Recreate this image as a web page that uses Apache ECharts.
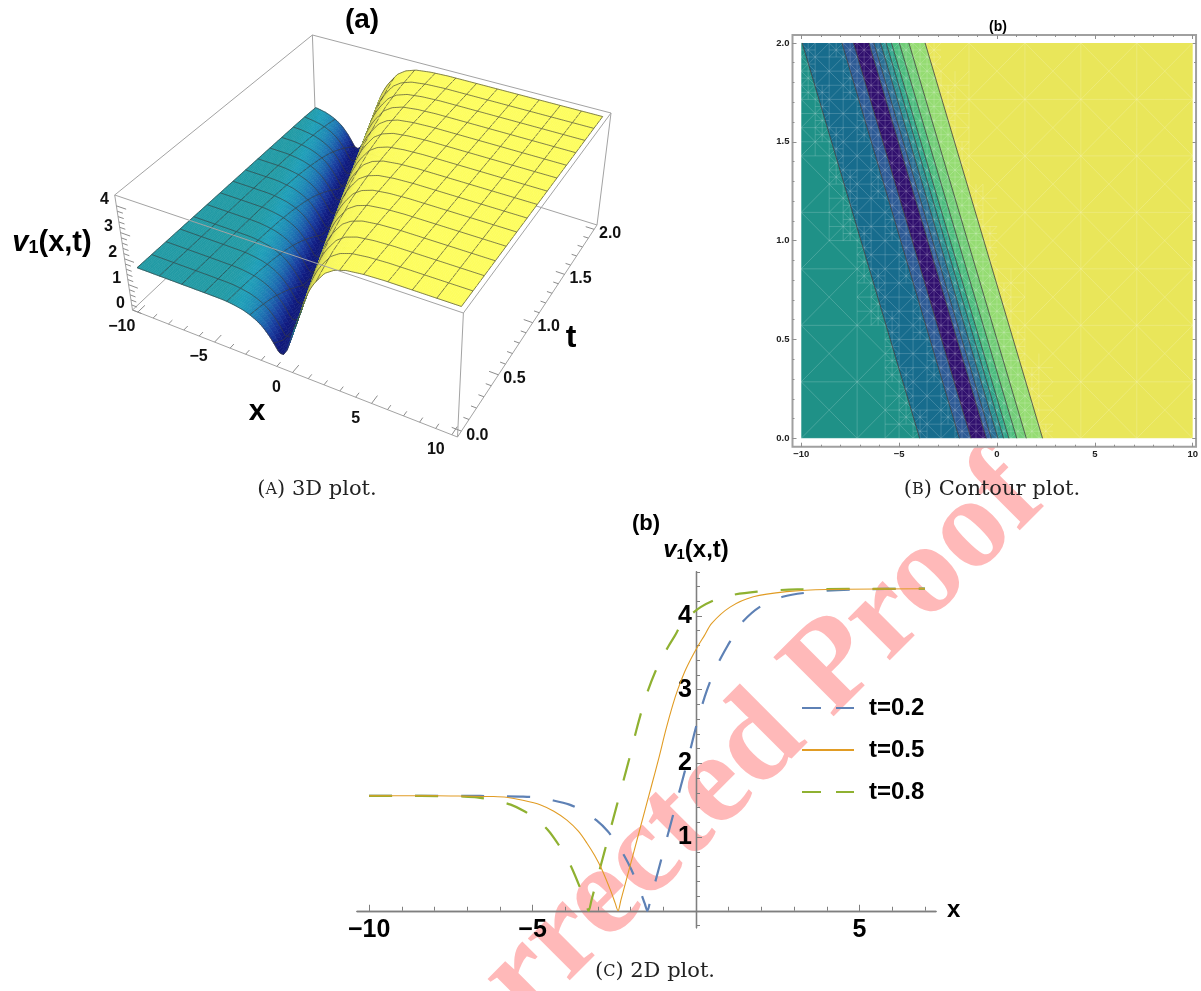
<!DOCTYPE html>
<html>
<head>
<meta charset="utf-8">
<style>html,body{margin:0;padding:0;background:#fff}#main{width:1201px;height:991px}</style>
<script src="https://cdn.jsdelivr.net/npm/echarts@6/dist/echarts.min.js"></script>
</head>
<body>
<div id="main"></div>
<script>
// panel (c): curves
var curveT02 = [[-10,1.56],[-7.1,1.56],[-6.1,1.555],[-5.3,1.55],[-4.9,1.54],[-4.4,1.5],[-3.87,1.44],[-3.45,1.35],[-3.05,1.23],[-2.7,1.08],[-2.44,0.92],[-2.2,0.75],[-1.98,0.56],[-1.7,0.26],[-1.57,0.1],[-1.485,0],[-1.4,0.14],[-1.17,0.52],[-0.81,1.12],[-0.46,1.7],[-0.25,2.05],[-0.02,2.46],[0.18,2.78],[0.34,3.0],[0.55,3.24],[0.77,3.44],[0.97,3.6],[1.15,3.73],[1.38,3.9],[1.94,4.12],[2.65,4.26],[3.67,4.33],[4.9,4.36],[7,4.37]];
var curveT05 = [[-10,1.56],[-8,1.56],[-7,1.555],[-6.2,1.55],[-5.8,1.54],[-5.3,1.5],[-4.77,1.44],[-4.35,1.35],[-3.95,1.23],[-3.6,1.08],[-3.34,0.92],[-3.1,0.75],[-2.88,0.56],[-2.6,0.26],[-2.47,0.1],[-2.385,0],[-2.3,0.14],[-2.07,0.52],[-1.71,1.12],[-1.36,1.7],[-1.15,2.05],[-0.92,2.46],[-0.72,2.78],[-0.56,3.0],[-0.35,3.24],[-0.13,3.44],[0.07,3.6],[0.25,3.73],[0.48,3.9],[1.04,4.12],[1.75,4.26],[2.77,4.33],[4,4.36],[7,4.37]];
var curveT08 = [[-10,1.56],[-8.9,1.56],[-7.9,1.555],[-7.1,1.55],[-6.7,1.54],[-6.2,1.5],[-5.67,1.44],[-5.25,1.35],[-4.85,1.23],[-4.5,1.08],[-4.24,0.92],[-4,0.75],[-3.78,0.56],[-3.5,0.26],[-3.37,0.1],[-3.285,0],[-3.2,0.14],[-2.97,0.52],[-2.61,1.12],[-2.26,1.7],[-2.05,2.05],[-1.82,2.46],[-1.62,2.78],[-1.46,3.0],[-1.25,3.24],[-1.03,3.44],[-0.83,3.6],[-0.65,3.73],[-0.42,3.9],[0.14,4.12],[0.85,4.26],[1.87,4.33],[3.1,4.36],[7,4.37]];
var xTicks2d = [-10,-5,5];
var yTicks2d = [1,2,3,4];

// panel (b): contour band edges as x at t=0 and at t=2
var edgesAtT0 = [-3.95,-1.92,-1.33,-0.54,-0.29,0.05,0.34,0.61,1.01,1.5,2.33];
var edgesAtT2 = [-9.95,-7.92,-7.33,-6.54,-6.29,-5.95,-5.66,-5.39,-4.99,-4.5,-3.67];
var bandColors = ['#1f9187','#176c8d','#2c5a95','#30106e','#33609b','#2a6f94','#2a8f90','#2fa58a','#4dbd7f','#71cd78','#95dc72','#e9e65a'];
var contourXTicks = [-10,-5,0,5,10];
var contourTTicks = [0,0.5,1,1.5,2];

// panel (a): the surface is one profile (wave coordinate s = x + 3t)
var profileS = [-20,-5,-3.8,-3.4,-2.9,-2.385,-1.965,-1.565,-1.215,-0.955,-0.715,-0.495,-0.215,0.05,0.315,0.675,1.025,1.235,1.465,1.665,1.825,2.035,2.255,2.455,2.635,2.865,3.425,4.135,5.155,6.385,20];
var profileV = [1.56,1.555,1.55,1.54,1.5,1.44,1.35,1.23,1.08,0.92,0.75,0.56,0.3,0.28,0.52,1.12,1.7,2.05,2.46,2.78,3.0,3.24,3.44,3.6,3.73,3.9,4.12,4.26,4.33,4.36,4.37];
var surfaceShift = -0.9;
var heightStops = [[0,'#0a1560'],[0.4,'#101a80'],[0.8,'#1a3fa0'],[1.2,'#1e78b4'],[1.47,'#1f9fb8'],[1.56,'#219aa3'],[2.0,'#4f7f5a'],[2.6,'#9aa850'],[3.2,'#d8d855'],[3.8,'#f6f65a'],[4.37,'#fdfd5e']];

var FONT = '"Liberation Sans", Arial, sans-serif';
var SERIF = '"Liberation Serif", serif';
var CAPTION = '"DejaVu Serif", serif';

function profileAt(s) {
  for (var i = 1; i < profileS.length; i++) {
    if (s <= profileS[i]) {
      var k = (s - profileS[i-1]) / (profileS[i] - profileS[i-1]);
      return profileV[i-1] + k * (profileV[i] - profileV[i-1]);
    }
  }
  return profileV[profileV.length-1];
}
function hexToRgb(h) {
  return [parseInt(h.substr(1,2),16), parseInt(h.substr(3,2),16), parseInt(h.substr(5,2),16)];
}
function heightColor(v) {
  for (var i = 1; i < heightStops.length; i++) {
    if (v <= heightStops[i][0]) {
      var a = heightStops[i-1], b = heightStops[i];
      var k = (v - a[0]) / (b[0] - a[0]);
      var p = hexToRgb(a[1]), q = hexToRgb(b[1]);
      return 'rgb(' + Math.round(p[0]+k*(q[0]-p[0])) + ',' + Math.round(p[1]+k*(q[1]-p[1])) + ',' + Math.round(p[2]+k*(q[2]-p[2])) + ')';
    }
  }
  return heightStops[heightStops.length-1][1];
}

// box of the 3d plot, screen corners measured on the picture
var box = {xMin:-10.35, xMax:10.35, tMin:-0.05, tMax:2.05, zMax:4.4};
var view = {
  a0:[132.5,310], b0:[457.5,437], c0:[597,225], d0:[316,137],
  a1:[114.7,195], b1:[463.4,313], c1:[611,113], d1:[312.4,35]
};
function warp(u, w) { return u * w / (1 + (w - 1) * u); }
function mix(p, q, k) { return [p[0] + k*(q[0]-p[0]), p[1] + k*(q[1]-p[1])]; }
function project(x, t, z) {
  var u = warp((x - box.xMin) / (box.xMax - box.xMin), 0.97);
  var v = warp((t - box.tMin) / (box.tMax - box.tMin), 1.17);
  var w = warp(z / box.zMax, 0.96);
  var low = mix(mix(view.a0, view.b0, u), mix(view.d0, view.c0, u), v);
  var high = mix(mix(view.a1, view.b1, u), mix(view.d1, view.c1, u), v);
  return mix(low, high, w);
}

var scene = [];
function boxLine(p, q) { scene.push({kind:'line', p:p, q:q, color:'#a3a3a3', width:1}); }
function tickLine(p, q) { scene.push({kind:'line', p:p, q:q, color:'#8c8c8c', width:1}); }
function tickLabel(text, p, dx, dy) { scene.push({kind:'text', text:text, p:p, dx:dx, dy:dy}); }

var xa = box.xMin, xb = box.xMax, ta = box.tMin, tb = box.tMax, zt = box.zMax;
// back and floor of the box
boxLine([xa,tb,zt],[xa,tb,0]); boxLine([xa,tb,zt],[xb,tb,zt]); boxLine([xa,tb,zt],[xa,ta,zt]);
boxLine([xa,tb,0],[xa,ta,0]); boxLine([xa,tb,0],[xb,tb,0]);
boxLine([xa,ta,0],[xb,ta,0]); boxLine([xb,ta,0],[xb,tb,0]);
boxLine([xa,ta,0],[xa,ta,zt]); boxLine([xb,ta,0],[xb,ta,zt]); boxLine([xb,tb,0],[xb,tb,zt]);

var i, j, q;
for (q = -10; q <= 10; q++) {
  tickLine([q,ta,0],[q,ta+(q % 5 === 0 ? 0.07 : 0.04),0]);
  if (q % 5 === 0) tickLabel(String(q).replace('-', '\u2212'), [q,ta,0], -16, 15);
}
for (q = 0; q <= 20; q++) {
  var tv = q / 10;
  tickLine([xb,tv,0],[xb-(q % 5 === 0 ? 0.6 : 0.35),tv,0]);
  if (q % 5 === 0) tickLabel(tv.toFixed(1), [xb,tv,0], 16, 4);
}
for (q = 0; q <= 20; q++) {
  var zv = q / 5;
  tickLine([xa,ta,zv],[xa+(q % 5 === 0 ? 0.6 : 0.35),ta,zv]);
  if (q % 5 === 0) tickLabel(String(zv), [xa,ta,zv], -12, -6);
}

// surface, back to front so that nearer rows hide farther ones
var rowsPerMesh = 3, meshRows = 14, colCount = 168, meshEveryX = 12;
var rowCount = rowsPerMesh * meshRows, xStep = 20 / colCount;
var meshColor = 'rgba(55,55,55,0.8)';
function height(x, t) { return profileAt(x - surfaceShift + 3 * t); }
for (i = rowCount; i > 0; i--) {
  var t1 = 2 * i / rowCount, t0 = 2 * (i - 1) / rowCount;
  for (j = 0; j < colCount; j++) {
    var x0 = -10 + j * xStep, x1 = x0 + xStep;
    var h00 = height(x0,t0), h10 = height(x1,t0), h11 = height(x1,t1), h01 = height(x0,t1);
    scene.push({kind:'quad', pts:[[x0,t0,h00],[x1,t0,h10],[x1,t1,h11],[x0,t1,h01]], color:heightColor((h00+h10+h11+h01)/4)});
  }
  // mesh lines along t
  for (j = 0; j <= colCount; j += meshEveryX) {
    var mx = -10 + j * xStep;
    scene.push({kind:'line', p:[mx,t1,height(mx,t1)], q:[mx,t0,height(mx,t0)], color:meshColor, width:0.8});
  }
  // mesh lines along x, on the back edge of this row
  if (i % rowsPerMesh === 0 || i === 1) {
    var mt = i === 1 ? t0 : t1;
    for (j = 0; j < colCount; j++) {
      var mx0 = -10 + j * xStep, mx1 = mx0 + xStep;
      scene.push({kind:'line', p:[mx0,mt,height(mx0,mt)], q:[mx1,mt,height(mx1,mt)], color:meshColor, width:0.8});
    }
  }
}
// front of the box goes over the surface
boxLine([xa,ta,zt],[xb,ta,zt]); boxLine([xb,ta,zt],[xb,tb,zt]);

function renderScene(params, api) {
  var item = scene[params.dataIndex];
  function scr(p) { var s = project(p[0],p[1],p[2]); return api.coord(s); }
  if (item.kind === 'quad') {
    return {type:'polygon', shape:{points:item.pts.map(scr)}, style:{fill:item.color, stroke:item.color, lineWidth:0.6}};
  }
  if (item.kind === 'line') {
    var a = scr(item.p), b = scr(item.q);
    return {type:'line', shape:{x1:a[0],y1:a[1],x2:b[0],y2:b[1]}, style:{stroke:item.color, lineWidth:item.width, fill:null}};
  }
  var c = scr(item.p);
  return {type:'text', style:{x:c[0]+item.dx, y:c[1]+item.dy, text:item.text, fill:'#111', font:'bold 16px ' + FONT, align:'center', verticalAlign:'middle'}};
}

// contour mesh: cells get finer where they cross the bands
var meshSegs = [];
function addCell(x, t, dx, dt, depth, ci, cj) {
  var sLow = x + 3 * t, sHigh = x + dx + 3 * (t + dt);
  var crossing = edgesAtT0.some(function (e) { return sLow < e && sHigh > e; });
  var inBand = sHigh > edgesAtT0[0] && sLow < edgesAtT0[edgesAtT0.length-1];
  var maxDepth = crossing ? 2 : inBand ? 1 : 0;
  if (depth < maxDepth) {
    addCell(x, t, dx/2, dt/2, depth+1, ci*2, cj*2);
    addCell(x+dx/2, t, dx/2, dt/2, depth+1, ci*2+1, cj*2);
    addCell(x, t+dt/2, dx/2, dt/2, depth+1, ci*2, cj*2+1);
    addCell(x+dx/2, t+dt/2, dx/2, dt/2, depth+1, ci*2+1, cj*2+1);
    return;
  }
  if ((ci + cj) % 2 === 0) meshSegs.push([x,t,x+dx,t+dt]); else meshSegs.push([x,t+dt,x+dx,t]);
  if (depth > 0 || ci % 2 === 0) meshSegs.push([x,t,x,t+dt]);
  if (depth > 0 || cj % 2 === 0) meshSegs.push([x,t,x+dx,t]);
}
for (i = 0; i < 14; i++) for (j = 0; j < 14; j++) addCell(-10 + i*20/14, j*2/14, 20/14, 2/14, 0, i, j);

function renderBand(params, api) {
  var k = params.dataIndex;
  var lowLeft = k === 0 ? -10 : edgesAtT0[k-1], highLeft = k === 0 ? -10 : edgesAtT2[k-1];
  var lowRight = k === edgesAtT0.length ? 10 : edgesAtT0[k], highRight = k === edgesAtT0.length ? 10 : edgesAtT2[k];
  return {type:'polygon', shape:{points:[api.coord([lowLeft,0]),api.coord([lowRight,0]),api.coord([highRight,2]),api.coord([highLeft,2])]}, style:{fill:bandColors[k]}};
}
function renderMesh(params, api) {
  var s = meshSegs[params.dataIndex];
  var a = api.coord([s[0],s[1]]), b = api.coord([s[2],s[3]]);
  return {type:'line', shape:{x1:a[0],y1:a[1],x2:b[0],y2:b[1]}, style:{stroke:'rgba(255,255,255,0.18)', lineWidth:1, fill:null}};
}
function renderEdge(params, api) {
  var k = params.dataIndex;
  var a = api.coord([edgesAtT0[k],0]), b = api.coord([edgesAtT2[k],2]);
  return {type:'line', shape:{x1:a[0],y1:a[1],x2:b[0],y2:b[1]}, style:{stroke:'rgba(50,50,50,0.75)', lineWidth:1, fill:null}};
}

function steps(from, to, step) {
  var out = [];
  for (var n = Math.round(from/step); n <= Math.round(to/step); n++) out.push(+(n*step).toFixed(2));
  return out;
}
function frameAxis(gridIndex, position, range, ticks, len, labels, fmt, margin) {
  return {
    type:'value', gridIndex:gridIndex, position:position, min:range[0], max:range[1],
    splitLine:{show:false},
    axisLine:{show:false, onZero:false},
    axisTick:{show:true, inside:true, length:len, customValues:ticks, lineStyle:{color:'#8f8f8f', width:1}},
    axisLabel: labels ? {show:true, customValues:ticks, formatter:fmt, margin:margin, fontFamily:FONT, fontWeight:'bold', fontSize:9.5, color:'#222'} : {show:false}
  };
}
var cX = [-10.445,10.17], cT = [-0.0425,2.04];
function xLabelFmt(v) { return String(v).replace('-', '\u2212'); }
function tLabelFmt(v) { return v.toFixed(1); }

// the 2d axes cross inside the grid, offset moves them from the grid edge to the zero lines
var x2dRange = [-10.37,7.34], y2dRange = [-0.23,4.6];
function plotAxis(range, position, offset, major) {
  return {
    type:'value', gridIndex:2, position:position, offset:offset, min:range[0], max:range[1],
    splitLine:{show:false},
    axisLine:{show:true, onZero:false, lineStyle:{color:'#7f7f7f', width:1.3}},
    axisTick:{show:true, inside:true, length:major.len, customValues:major.ticks, lineStyle:{color:'#7f7f7f', width:1}},
    axisLabel:{show:false}
  };
}
var x2dMain = plotAxis(x2dRange, 'bottom', -17, {len:6, ticks:[-10,-5,0,5]});
x2dMain.axisLabel = {show:true, customValues:xTicks2d, formatter:xLabelFmt, margin:7, fontFamily:FONT, fontWeight:'bold', fontSize:25, color:'#000'};
x2dMain.name = 'x'; x2dMain.nameLocation = 'end'; x2dMain.nameGap = 11;
x2dMain.nameTextStyle = {fontFamily:FONT, fontWeight:'bold', fontSize:24, color:'#000'};
var y2dMain = plotAxis(y2dRange, 'left', -339, {len:6, ticks:[0,1,2,3,4]});
y2dMain.axisLabel = {show:true, customValues:yTicks2d, margin:4, fontFamily:FONT, fontWeight:'bold', fontSize:25, color:'#000'};
y2dMain.name = '{i|v}{s|1}{b|(x,t)}'; y2dMain.nameLocation = 'end'; y2dMain.nameGap = 9;
y2dMain.nameTextStyle = {rich:{
  i:{fontFamily:FONT, fontWeight:'bold', fontStyle:'italic', fontSize:24, color:'#000'},
  s:{fontFamily:FONT, fontWeight:'bold', fontSize:15, color:'#000', padding:[9,0,0,0]},
  b:{fontFamily:FONT, fontWeight:'bold', fontSize:24, color:'#000'}
}};

function caption(text, x, y) {
  return {text:text, left:x, top:y, textAlign:'center', textVerticalAlign:'middle', padding:0,
    textStyle:{fontFamily:CAPTION, fontWeight:'normal', fontSize:21, color:'#222',
      rich:{c:{fontFamily:CAPTION, fontSize:16, color:'#222'}, n:{fontFamily:CAPTION, fontSize:21, color:'#222'}}}};
}
function heading(text, x, y, size) {
  return {text:text, left:x, top:y, textAlign:'center', textVerticalAlign:'middle', padding:0,
    textStyle:{fontFamily:FONT, fontWeight:'bold', fontSize:size, color:'#000'}};
}

var option = {
  animation:false,
  backgroundColor:'#fff',
  title:[
    heading('(a)', 362, 20, 28), heading('(b)', 998, 27, 14), heading('(b)', 646, 524, 22),
    heading('x', 257, 412, 30), heading('t', 571, 338, 32),
    caption('{n|(}{c|A}{n|) 3D plot.}', 317, 490),
    caption('{n|(}{c|B}{n|) Contour plot.}', 992, 490),
    caption('{n|(}{c|C}{n|) 2D plot.}', 655, 972)
  ],
  graphic:[
    {type:'text', z:-10, x:708, y:795, rotation:Math.PI/4,
      style:{text:'Corrected Proof', font:'bold 129px ' + SERIF, fill:'#ffb9b9', align:'center', verticalAlign:'middle'}},
    {type:'text', z:10, x:52, y:243,
      style:{rich:{i:{font:'italic bold 29px ' + FONT, fill:'#000'}, s:{font:'bold 18px ' + FONT, fill:'#000', padding:[11,0,0,0]}, b:{font:'bold 29px ' + FONT, fill:'#000'}},
        text:'{i|v}{s|1}{b|(x,t)}', align:'center', verticalAlign:'middle'}}
  ],
  grid:[
    {left:0, top:0, width:1201, height:991, show:false},
    {left:792.5, top:35, width:407.5, height:411.7, show:true, borderColor:'#a0a0a0', borderWidth:2, backgroundColor:'#fff'},
    {left:357, top:571.75, width:579, height:356}
  ],
  xAxis:[
    {type:'value', gridIndex:0, min:0, max:1201, show:false},
    frameAxis(1,'bottom',cX,contourXTicks,4,true,xLabelFmt,3),
    frameAxis(1,'top',cX,contourXTicks,4,false),
    frameAxis(1,'bottom',cX,steps(-10,10,1),2,false),
    frameAxis(1,'top',cX,steps(-10,10,1),2,false),
    x2dMain,
    plotAxis(x2dRange,'bottom',-17,{len:4, ticks:steps(-10,7,1)})
  ],
  yAxis:[
    {type:'value', gridIndex:0, min:0, max:991, inverse:true, show:false},
    frameAxis(1,'left',cT,contourTTicks,4,true,tLabelFmt,3),
    frameAxis(1,'right',cT,contourTTicks,4,false),
    frameAxis(1,'left',cT,steps(0,2,0.1),2,false),
    frameAxis(1,'right',cT,steps(0,2,0.1),2,false),
    y2dMain,
    plotAxis(y2dRange,'left',-339,{len:4, ticks:steps(-0.2,4.6,0.2)})
  ],
  legend:{
    orient:'vertical', left:801, top:696, padding:0, itemWidth:52, itemHeight:14, itemGap:18,
    textStyle:{fontFamily:FONT, fontWeight:'bold', fontSize:24, color:'#000', padding:[0,0,0,10]},
    data:[
      {name:'t=0.2', itemStyle:{opacity:0}, lineStyle:{type:[19,15]}},
      {name:'t=0.5', itemStyle:{opacity:0}},
      {name:'t=0.8', itemStyle:{opacity:0}, lineStyle:{type:[19,15]}}
    ]
  },
  series:[
    {type:'custom', name:'surface', xAxisIndex:0, yAxisIndex:0, clip:false, silent:true, progressive:0, renderItem:renderScene, data:scene.map(function (s, n) { return [n,0]; })},
    {type:'custom', name:'bands', xAxisIndex:1, yAxisIndex:1, clip:false, silent:true, renderItem:renderBand, data:bandColors.map(function (c, n) { return [n,0]; })},
    {type:'custom', name:'mesh', xAxisIndex:1, yAxisIndex:1, clip:false, silent:true, progressive:0, renderItem:renderMesh, data:meshSegs.map(function (s) { return [s[0],s[1]]; })},
    {type:'custom', name:'edges', xAxisIndex:1, yAxisIndex:1, clip:false, silent:true, renderItem:renderEdge, data:edgesAtT0.map(function (e) { return [e,0]; })},
    {type:'line', name:'t=0.2', xAxisIndex:5, yAxisIndex:5, data:curveT02, showSymbol:false, symbol:'none', silent:true, smooth:0.3, lineStyle:{color:'#5e81b5', width:2.2, type:[23,23]}, itemStyle:{color:'#5e81b5'}},
    {type:'line', name:'t=0.8', xAxisIndex:5, yAxisIndex:5, data:curveT08, showSymbol:false, symbol:'none', silent:true, smooth:0.3, lineStyle:{color:'#8fb131', width:2.2, type:[23,23]}, itemStyle:{color:'#8fb131'}},
    {type:'line', name:'t=0.5', xAxisIndex:5, yAxisIndex:5, data:curveT05, showSymbol:false, symbol:'none', silent:true, smooth:0.3, lineStyle:{color:'#e19c24', width:1.1}, itemStyle:{color:'#e19c24'}}
  ]
};

var chart = echarts.init(document.getElementById('main'), null, {renderer:'canvas'});
chart.setOption(option);
</script>
</body>
</html>
